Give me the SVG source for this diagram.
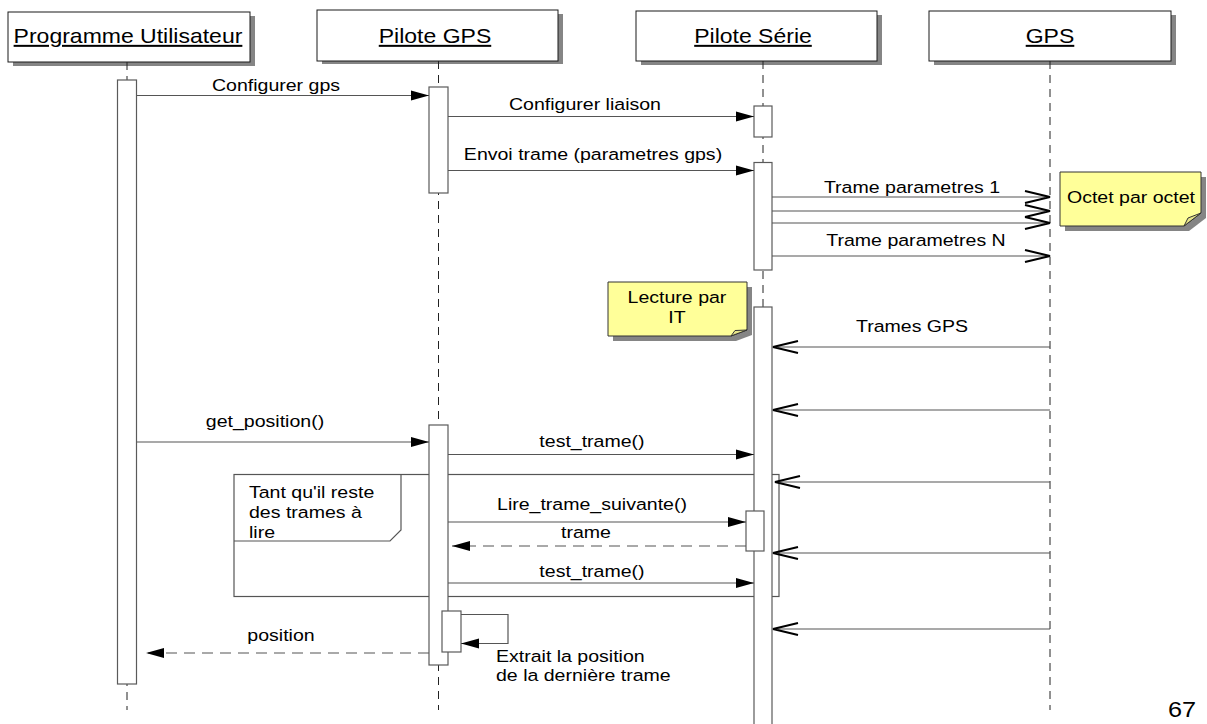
<svg xmlns="http://www.w3.org/2000/svg" width="1207" height="724" viewBox="0 0 1207 724">
  <defs>
    <style>
      .bg { fill: #ffffff; }
      .hdr { fill: #ffffff; stroke: #1a1a1a; stroke-width: 1; }
      .shd { fill: #858585; }
      .life { stroke: #222; stroke-width: 1; stroke-dasharray: 8 6; fill: none; }
      .act { fill: #ffffff; stroke: #5a5a5a; stroke-width: 1.2; }
      .msg { stroke: #555; stroke-width: 1.2; fill: none; }
      .ret { stroke: #555; stroke-width: 1.2; fill: none; stroke-dasharray: 11 7; }
      .frame { fill: none; stroke: #555; stroke-width: 1.2; }
      .note { fill: #ffff99; stroke: #333; stroke-width: 1; }
      .fold { fill: #e6e48a; stroke: #333; stroke-width: 1; }
      .t { font-family: "Liberation Sans", Arial, sans-serif; font-size: 17px; fill: #000;
           transform-box: fill-box; transform: scaleX(1.15); }
      .h { font-size: 20px; text-decoration: underline; }
      .m { text-anchor: middle; transform-origin: center; }
      .s { text-anchor: start; transform-origin: left center; }
    </style>
    <marker id="filled" markerUnits="userSpaceOnUse" markerWidth="20" markerHeight="12"
            refX="18" refY="5" orient="auto" overflow="visible">
      <path d="M0,0 L18,5 L0,10 Z" fill="#000"/>
    </marker>
    <marker id="open" markerUnits="userSpaceOnUse" markerWidth="28" markerHeight="14"
            refX="25" refY="6" orient="auto" overflow="visible">
      <path d="M0,0 L25,6 L0,12" fill="none" stroke="#000" stroke-width="2"/>
    </marker>
  </defs>

  <rect class="bg" x="0" y="0" width="1207" height="724"/>

  <!-- combined fragment: loop -->
  <g id="loop">
    <rect class="frame" x="234" y="474.5" width="545" height="122"/>
    <path class="frame" d="M234,474.5 H401 V530 L390,541 H234"/>
    <text class="t s" x="249" y="498">Tant qu'il reste</text>
    <text class="t s" x="249" y="518">des trames à</text>
    <text class="t s" x="249" y="538">lire</text>
  </g>

  <!-- participant: Programme Utilisateur -->
  <g id="programme-utilisateur">
    <rect class="shd" x="13" y="16" width="242" height="50"/>
    <rect class="hdr" x="8" y="12" width="242" height="50"/>
    <text class="t h m" x="128" y="43">Programme Utilisateur</text>
    <line class="life" x1="127" y1="62" x2="127" y2="710"/>
    <rect class="act" x="117.5" y="80" width="19" height="604"/>
  </g>

  <!-- participant: Pilote GPS -->
  <g id="pilote-gps">
    <rect class="shd" x="322" y="14" width="241" height="50"/>
    <rect class="hdr" x="317" y="10" width="241" height="51"/>
    <text class="t h m" x="435" y="43">Pilote GPS</text>
    <line class="life" x1="438.5" y1="61" x2="438.5" y2="710"/>
    <rect class="act" x="429" y="87" width="19" height="106"/>
    <rect class="act" x="429" y="425" width="19" height="240"/>
    <rect class="act" x="442" y="611" width="19" height="41"/>
  </g>

  <!-- participant: Pilote Série -->
  <g id="pilote-serie">
    <rect class="shd" x="641" y="15" width="241" height="50"/>
    <rect class="hdr" x="636" y="11" width="241" height="50"/>
    <text class="t h m" x="753" y="43">Pilote Série</text>
    <line class="life" x1="763" y1="61" x2="763" y2="724"/>
    <rect class="act" x="754" y="106" width="18" height="31"/>
    <rect class="act" x="754" y="162.5" width="18" height="107.5"/>
    <rect class="act" x="754" y="307" width="18" height="425"/>
    <rect class="act" x="746" y="511" width="18" height="40"/>
  </g>

  <!-- participant: GPS -->
  <g id="gps">
    <rect class="shd" x="934" y="15" width="242" height="50"/>
    <rect class="hdr" x="929" y="11" width="242" height="50"/>
    <text class="t h m" x="1050" y="43">GPS</text>
    <line class="life" x1="1050" y1="61" x2="1050" y2="710"/>
  </g>

  <!-- messages -->
  <g id="connectors">
    <line class="msg" x1="137" y1="95.5" x2="429" y2="95.5" marker-end="url(#filled)"/>
    <text class="t m" x="276" y="91">Configurer gps</text>

    <line class="msg" x1="448" y1="116.5" x2="754" y2="116.5" marker-end="url(#filled)"/>
    <text class="t m" x="585" y="110">Configurer liaison</text>

    <line class="msg" x1="448" y1="170.5" x2="754" y2="170.5" marker-end="url(#filled)"/>
    <text class="t m" x="593" y="160">Envoi trame (parametres gps)</text>

    <line class="msg" x1="772" y1="197" x2="1050" y2="197" marker-end="url(#open)"/>
    <line class="msg" x1="772" y1="211" x2="1050" y2="211" marker-end="url(#open)"/>
    <line class="msg" x1="772" y1="223" x2="1050" y2="223" marker-end="url(#open)"/>
    <text class="t m" x="912" y="193">Trame parametres 1</text>

    <line class="msg" x1="772" y1="256" x2="1050" y2="256" marker-end="url(#open)"/>
    <text class="t m" x="916" y="246">Trame parametres N</text>

    <line class="msg" x1="1050" y1="347" x2="773" y2="347" marker-end="url(#open)"/>
    <text class="t m" x="912" y="332">Trames GPS</text>

    <line class="msg" x1="1050" y1="410" x2="773" y2="410" marker-end="url(#open)"/>

    <line class="msg" x1="137" y1="442" x2="429" y2="442" marker-end="url(#filled)"/>
    <text class="t m" x="265" y="427">get_position()</text>

    <line class="msg" x1="448" y1="454.5" x2="754" y2="454.5" marker-end="url(#filled)"/>
    <text class="t m" x="592" y="447">test_trame()</text>

    <line class="msg" x1="1050" y1="482" x2="775" y2="482" marker-end="url(#open)"/>

    <line class="msg" x1="448" y1="522" x2="746" y2="522" marker-end="url(#filled)"/>
    <text class="t m" x="592" y="510">Lire_trame_suivante()</text>

    <line class="ret" x1="746" y1="546" x2="452" y2="546" marker-end="url(#filled)"/>
    <text class="t m" x="586" y="538">trame</text>

    <line class="msg" x1="1050" y1="553" x2="773" y2="553" marker-end="url(#open)"/>

    <line class="msg" x1="448" y1="583" x2="754" y2="583" marker-end="url(#filled)"/>
    <text class="t m" x="592" y="577">test_trame()</text>

    <line class="msg" x1="1050" y1="629" x2="773" y2="629" marker-end="url(#open)"/>

    <polyline class="msg" points="461,614.5 508,614.5 508,643.5 461,643.5" marker-end="url(#filled)"/>
    <text class="t s" x="496" y="662">Extrait la position</text>
    <text class="t s" x="496" y="681">de la dernière trame</text>

    <line class="ret" x1="429" y1="653" x2="146" y2="653" marker-end="url(#filled)"/>
    <text class="t m" x="281" y="641">position</text>
  </g>

  <!-- note: Octet par octet -->
  <g id="note-octet">
    <path class="shd" d="M1065,177 H1206 V218 L1189,231 H1065 Z"/>
    <path class="note" d="M1060,172 H1201 V213 L1184,226 H1060 Z"/>
    <path class="fold" d="M1184,226 L1188,218 L1201,213 Z"/>
    <text class="t m" x="1131" y="203">Octet par octet</text>
  </g>

  <!-- note: Lecture par IT -->
  <g id="note-it">
    <path class="shd" d="M613,287 H752 V335 L736,341 H613 Z"/>
    <path class="note" d="M608,282 H747 V330 L731,336 H608 Z"/>
    <path class="fold" d="M731,336 L735,330.5 L747,330 Z"/>
    <text class="t m" x="677" y="303">Lecture par</text>
    <text class="t m" x="677" y="323">IT</text>
  </g>

  <!-- page number -->
  <text class="t s" x="1168" y="717" style="font-size:22px">67</text>
</svg>
